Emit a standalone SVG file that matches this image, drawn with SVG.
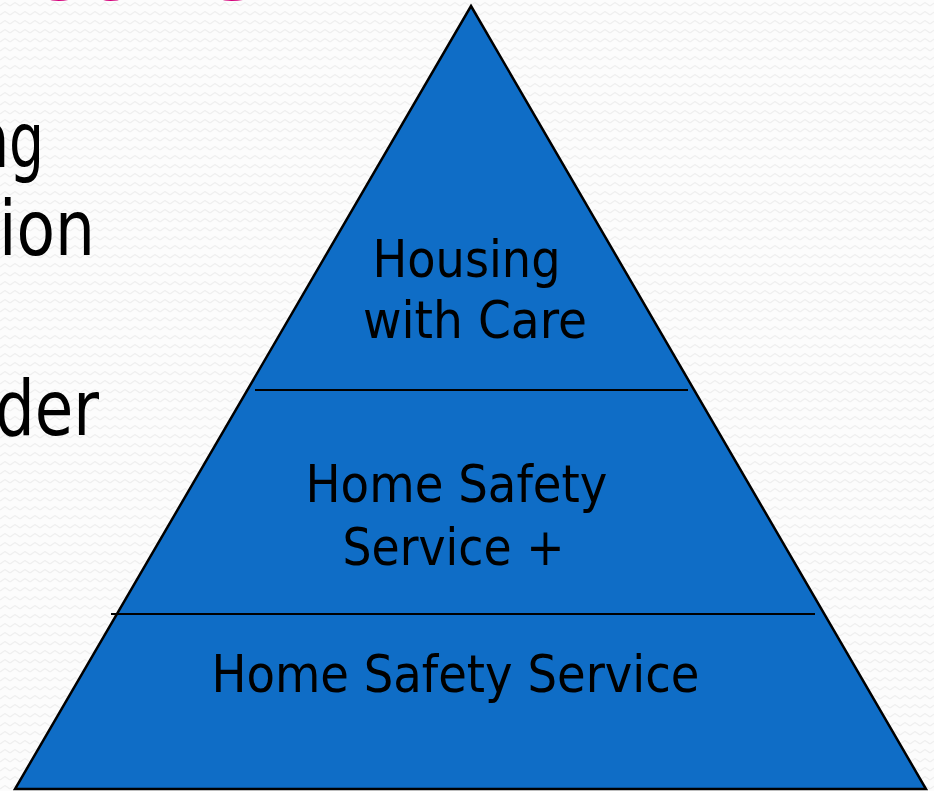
<svg xmlns="http://www.w3.org/2000/svg" width="934" height="791" viewBox="0 0 934 791">
  <defs>
    <pattern id="zig" width="10" height="9" patternUnits="userSpaceOnUse">
      <path d="M0,6 L5,2.5 L10,6" fill="none" stroke="#efefef" stroke-width="1.4"/>
    </pattern>
  </defs>
  <style>
    .lbl { font-family: "DejaVu Sans", "Liberation Sans", sans-serif; font-size: 52px; fill: #000; text-anchor: middle; }
    .side { font-family: "DejaVu Sans", "Liberation Sans", sans-serif; font-size: 76px; fill: #000; text-anchor: end; }
    .title { font-family: "DejaVu Sans", "Liberation Sans", sans-serif; font-size: 100px; fill: #D4007B; }
    .div { stroke: #000; stroke-width: 2.2; }
  </style>
  <rect width="934" height="791" fill="#fcfcfc"/>
  <rect width="934" height="791" fill="url(#zig)"/>

  <g id="background-text">
    <text class="title" x="23" y="0" textLength="239" lengthAdjust="spacingAndGlyphs">care</text>
    <text class="side" x="44" y="167" textLength="70" lengthAdjust="spacingAndGlyphs">ng</text>
    <text class="side" x="95" y="255" textLength="96" lengthAdjust="spacingAndGlyphs">ion</text>
    <text class="side" x="99" y="435" textLength="104" lengthAdjust="spacingAndGlyphs">der</text>
  </g>

  <g id="pyramid">
    <polygon points="471,6 926,789 15,789" fill="#0F6DC6" stroke="#000" stroke-width="2.5" stroke-linejoin="miter"/>
  </g>

  <g id="connectors">
    <line class="div" x1="255" y1="390" x2="688" y2="390"/>
    <line class="div" x1="111" y1="614" x2="815" y2="614"/>
  </g>

  <g id="tier-top">
    <text class="lbl" x="466.5" y="277" textLength="188" lengthAdjust="spacingAndGlyphs">Housing</text>
    <text class="lbl" x="475" y="338" textLength="224" lengthAdjust="spacingAndGlyphs">with Care</text>
  </g>
  <g id="tier-middle">
    <text class="lbl" x="456.5" y="502" textLength="302" lengthAdjust="spacingAndGlyphs">Home Safety</text>
    <text class="lbl" x="453.5" y="565" textLength="222" lengthAdjust="spacingAndGlyphs">Service +</text>
  </g>
  <g id="tier-bottom">
    <text class="lbl" x="455.5" y="692" textLength="488" lengthAdjust="spacingAndGlyphs">Home Safety Service</text>
  </g>
</svg>
